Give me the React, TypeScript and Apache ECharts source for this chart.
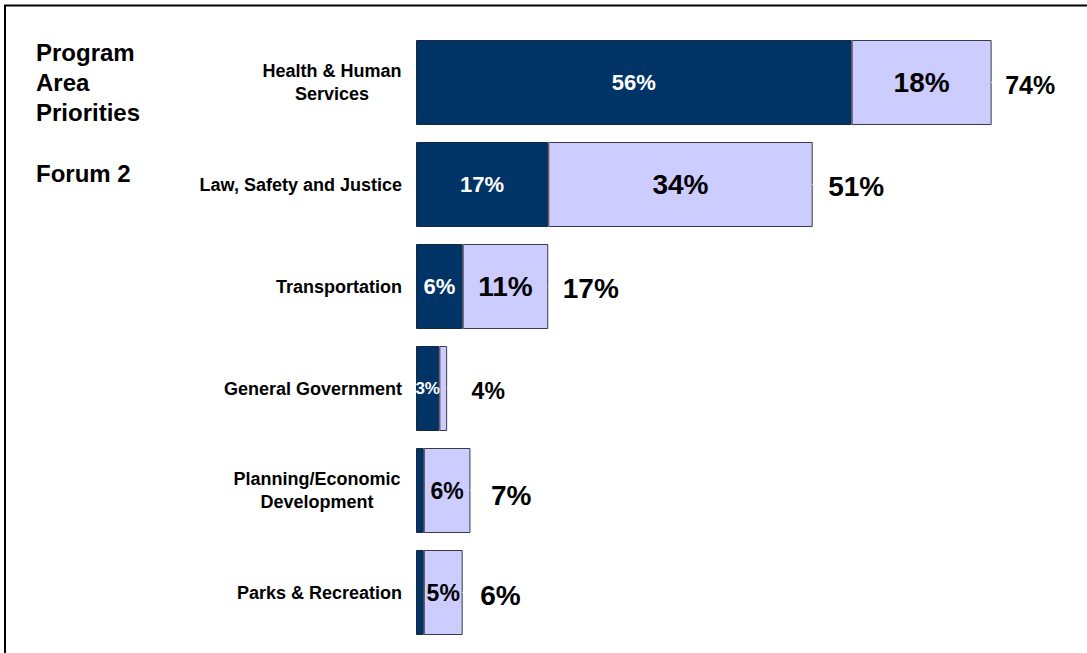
import React, { useEffect, useRef } from "react";
import * as echarts from "echarts";

const categories = [
  "Health & Human\nServices",
  "Law, Safety and Justice",
  "Transportation",
  "General Government",
  "Planning/Economic\nDevelopment",
  "Parks & Recreation",
];
const topPriority = [56, 17, 6, 3, 1, 1];
const otherPriority = [18, 34, 11, 1, 6, 5];
const totals = [74, 51, 17, 4, 7, 6];

// label styling (not data)
const darkFont = [22, 22, 22, 17, 17, 17];
const lightFont = [28, 28, 28, 20, 23, 23];
const totalFont = [25, 28, 28, 23, 28, 28];
const totalDist = [13, 15, 14, 24, 20, 17];
const totalDy = [2, 2, 2, 2, 5, 3];

const FONT = "'Liberation Sans', Arial, sans-serif";

export default function App() {
  const ref = useRef<HTMLDivElement>(null);
  useEffect(() => {
    if (!ref.current) return;
    const chart = echarts.init(ref.current, undefined, { renderer: "svg" });
    chart.setOption({
      animation: false,
      backgroundColor: "#ffffff",
      textStyle: { fontFamily: FONT },
      grid: { left: 416, right: 48.7, top: 31.5, bottom: 9.5, containLabel: false },
      xAxis: { type: "value", min: 0, max: 80, show: false },
      yAxis: {
        type: "category",
        data: categories,
        inverse: true,
        axisLine: { show: false },
        axisTick: { show: false },
        splitLine: { show: false },
        axisLabel: {
          margin: 14,
          color: "#000",
          fontWeight: "bold",
          fontSize: 18,
          fontFamily: FONT,
          lineHeight: 23,
          formatter: (v: string) => {
            if (v.indexOf("\n") < 0) return v;
            const style = v.startsWith("Health") ? "h" : "p";
            return v
              .split("\n")
              .map((l) => `{${style}|${l}}`)
              .join("\n");
          },
          rich: {
            h: { width: 140, align: "center", fontSize: 18, fontWeight: "bold", color: "#000", lineHeight: 23, fontFamily: FONT },
            p: { width: 170, align: "center", fontSize: 18, fontWeight: "bold", color: "#000", lineHeight: 23, fontFamily: FONT },
          },
        },
      },
      graphic: [
        { type: "line", shape: { x1: 4, y1: 5.5, x2: 1087, y2: 5.5 }, style: { stroke: "#000", lineWidth: 2 } },
        { type: "line", shape: { x1: 5, y1: 5, x2: 5, y2: 653 }, style: { stroke: "#000", lineWidth: 2 } },
        {
          type: "text",
          left: 36,
          top: 37,
          style: {
            text: "Program\nArea\nPriorities",
            fontSize: 24,
            fontWeight: "bold",
            fontFamily: FONT,
            lineHeight: 30,
            fill: "#000",
          },
        },
        {
          type: "text",
          left: 36,
          top: 158,
          style: {
            text: "Forum 2",
            fontSize: 24,
            fontWeight: "bold",
            fontFamily: FONT,
            lineHeight: 30,
            fill: "#000",
          },
        },
      ],
      series: [
        {
          type: "bar",
          stack: "p",
          barWidth: 85,
          data: topPriority.map((v, i) => ({
            value: v,
            label: {
              show: v >= 3,
              fontSize: darkFont[i],
            },
          })),
          itemStyle: { color: "#003366", borderColor: "#1a2740", borderWidth: 1 },
          label: {
            show: true,
            position: "inside",
            color: "#fff",
            fontWeight: "bold",
            fontFamily: FONT,
            formatter: "{c}%",
          },
        },
        {
          type: "bar",
          stack: "p",
          barWidth: 85,
          data: otherPriority.map((v, i) => ({
            value: v,
            label: {
              show: v >= 5,
              fontSize: lightFont[i],
            },
          })),
          itemStyle: { color: "#CCCCFF", borderColor: "#3a3a4a", borderWidth: 1 },
          label: {
            show: true,
            position: "inside",
            color: "#000",
            fontWeight: "bold",
            fontFamily: FONT,
            formatter: "{c}%",
          },
        },
        {
          type: "scatter",
          symbolSize: 1,
          itemStyle: { color: "#ffffff", opacity: 1 },
          data: totals.map((v, i) => ({
            value: [v, i],
            label: {
              show: true,
              position: "right",
              color: "#000000",
              opacity: 1,
              fontWeight: "bold",
              fontFamily: FONT,
              fontSize: totalFont[i],
              distance: totalDist[i],
              offset: [0, totalDy[i]],
              textBorderWidth: 0,
            },
          })),
          label: {
            show: true,
            position: "right",
            color: "#000000",
            fontWeight: "bold",
            fontFamily: FONT,
            formatter: (p: any) => `${p.value[0]}%`,
          },
          z: 5,
        },
      ],
    });
    return () => chart.dispose();
  }, []);
  return (
    <div
      ref={ref}
      style={{ position: "fixed", left: 0, top: 0, width: 1087, height: 653 }}
    />
  );
}
